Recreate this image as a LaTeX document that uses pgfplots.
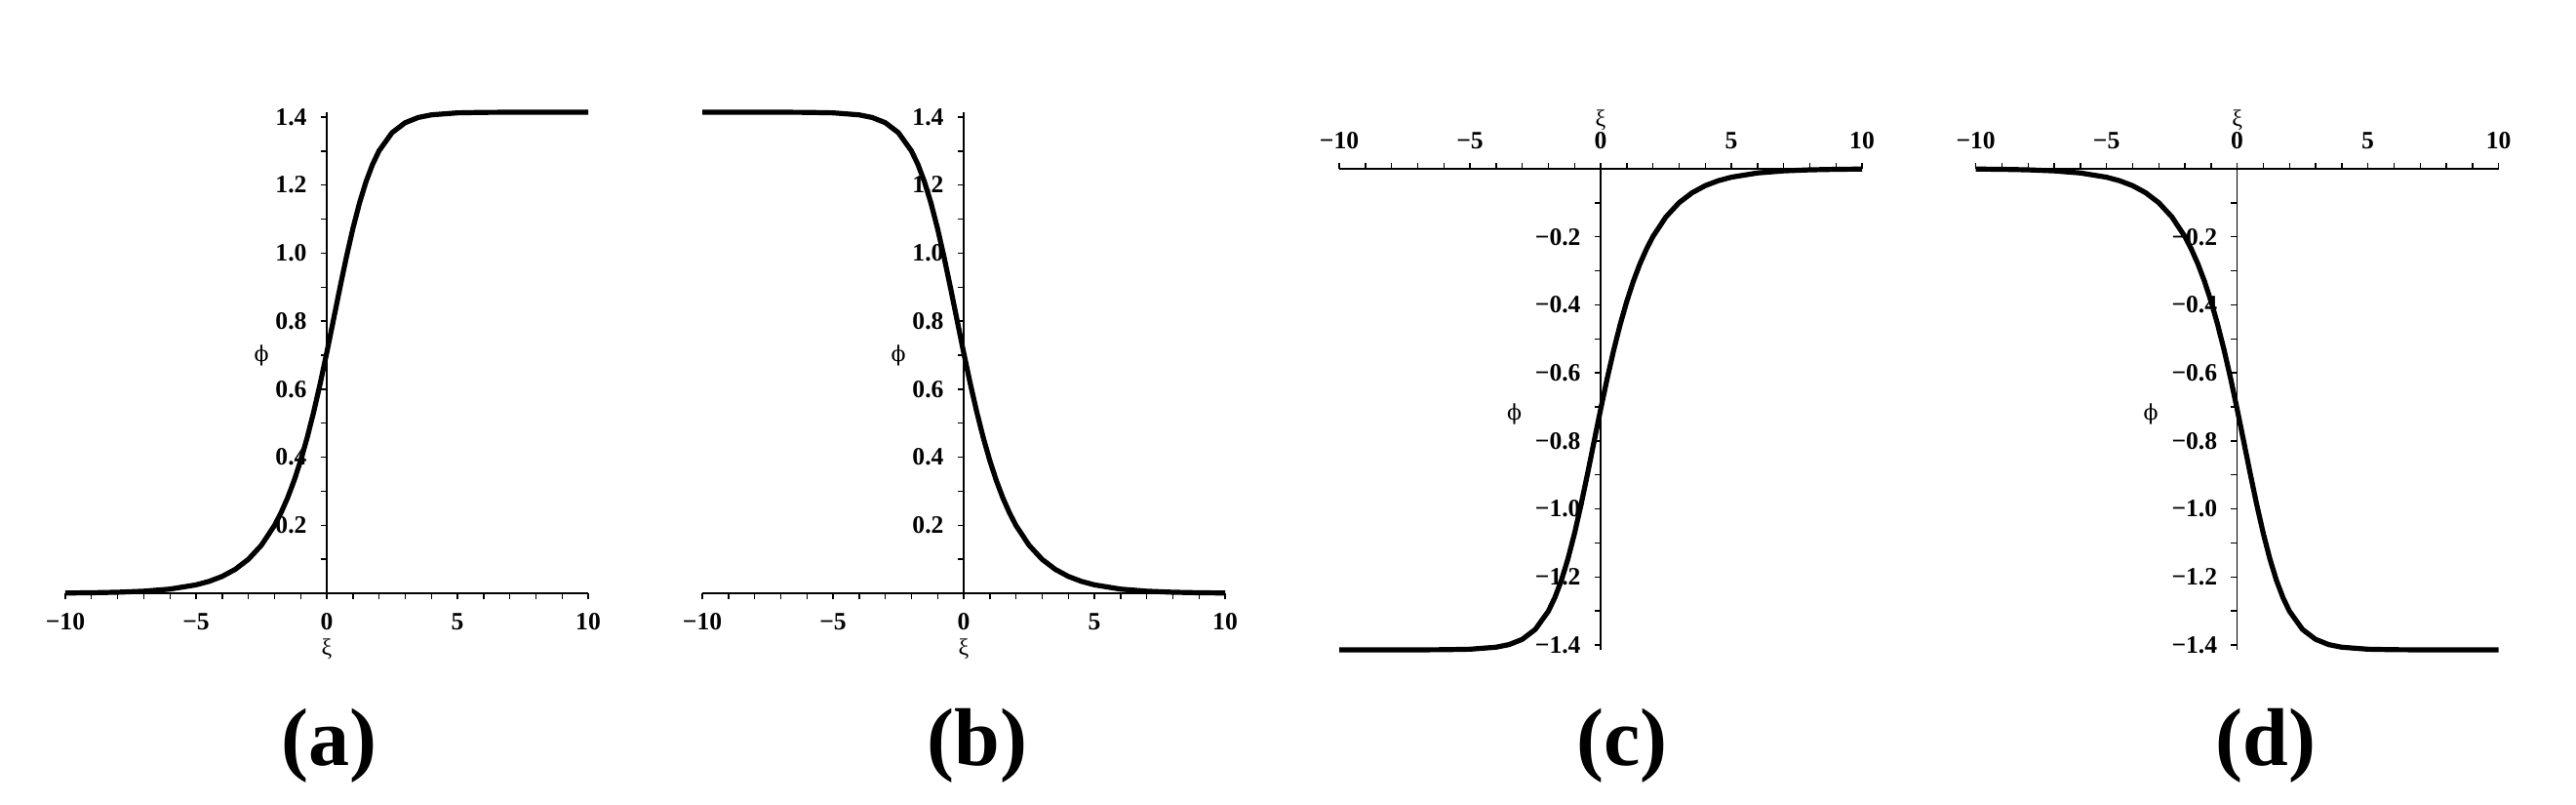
\documentclass[border=0pt]{standalone}
\usepackage{fontspec}
\setmainfont{Liberation Serif}
\newfontfamily\dvs{DejaVu Serif}
\usepackage{pgfplots}
\usepackage{pgfplotstable}
\pgfplotsset{compat=1.18}
\pgfplotstableread{
xi phi
-10 0.0007
-9 0.0015
-8 0.0030
-7 0.0061
-6 0.0122
-5 0.0247
-4.5 0.0350
-4 0.0496
-3.5 0.0704
-3 0.0997
-2.5 0.1412
-2 0.1993
-1.75 0.2365
-1.5 0.2801
-1.25 0.3309
-1 0.3898
-0.75 0.4571
-0.5 0.5330
-0.25 0.6168
0 0.7071
0.25 0.8014
0.5 0.8963
0.75 0.9878
1 1.0722
1.25 1.1466
1.5 1.2094
1.75 1.2604
2 1.3006
2.5 1.3542
3 1.3834
3.5 1.3987
4 1.4064
5 1.4123
6 1.4137
7 1.4141
8 1.4142
10 1.4142
}\curve
\pgfplotsset{
  mapleaxis/.style={
    scale only axis, width=134pt, height=123.25pt, anchor=south west,
    xmin=-10, xmax=10,
    axis y line*=middle,
    tick style={line width=0.35pt, black},
    tick align=outside,
    major tick length=1.6pt, minor tick length=1.6pt,
    xtick={-10,-5,0,5,10},
    xticklabels={−10,−5,0,5,10},
    minor xtick={-9,-8,-7,-6,-4,-3,-2,-1,1,2,3,4,6,7,8,9},
    hide obscured x ticks=false,
    tick label style={font=\fontsize{6.4}{7}\selectfont\bfseries},
    clip=false,
  },
  curvestyle/.style={black, line width=1.3pt, no marks, line join=round},
  posaxis/.style={
    ymin=0, ymax=1.4142, axis x line*=bottom,
    axis line style={-, line width=0.35pt},
    ytick={0.2,0.4,0.6,0.8,1.0,1.2,1.4},
    yticklabels={0.2,0.4,0.6,0.8,1.0,1.2,1.4},
    minor ytick={0.1,0.3,0.5,0.7,0.9,1.1,1.3},
    xlabel={ξ}, ylabel={{\dvs ϕ}},
    every axis x label/.style={at={(axis cs:0,-0.163)},anchor=center,font=\fontsize{6}{7}\selectfont},
    every axis y label/.style={at={(axis cs:-2.5,0.70)},anchor=center,font=\fontsize{5.5}{6}\selectfont},
  },
  negaxis/.style={
    ymin=-1.4142, ymax=0, axis x line*=top,
    axis line style={-, line width=0.35pt},
    ytick={-1.4,-1.2,-1.0,-0.8,-0.6,-0.4,-0.2},
    yticklabels={−1.4,−1.2,−1.0,−0.8,−0.6,−0.4,−0.2},
    minor ytick={-1.3,-1.1,-0.9,-0.7,-0.5,-0.3,-0.1},
    xlabel={ξ}, ylabel={{\dvs ϕ}},
    every axis x label/.style={at={(axis cs:0,0.143)},anchor=center,font=\fontsize{6}{7}\selectfont},
    every axis y label/.style={at={(axis cs:-3.3,-0.72)},anchor=center,font=\fontsize{5.5}{6}\selectfont},
  },
}
\begin{document}
\begin{tikzpicture}
\useasboundingbox (0,0) rectangle (660.25pt,206pt);
% (a)
\begin{axis}[mapleaxis, posaxis, at={(16.75pt,54pt)}]
\addplot[curvestyle] table[x=xi,y=phi]{\curve};
\end{axis}
% (b)
\begin{axis}[mapleaxis, posaxis, at={(180pt,54pt)}]
\addplot[curvestyle] table[x expr=-\thisrow{xi},y=phi]{\curve};
\end{axis}
% (c)
\begin{axis}[mapleaxis, negaxis, at={(343.25pt,39.5pt)}]
\addplot[curvestyle] table[x expr=-\thisrow{xi},y expr=-\thisrow{phi}]{\curve};
\end{axis}
% (d)
\begin{axis}[mapleaxis, negaxis, at={(506.4pt,39.5pt)}]
\addplot[curvestyle] table[x=xi,y expr=-\thisrow{phi}]{\curve};
\end{axis}
\node[font=\fontsize{21}{24}\selectfont\bfseries] at (84.25pt,15pt) {(a)};
\node[font=\fontsize{21}{24}\selectfont\bfseries] at (250.5pt,15pt) {(b)};
\node[font=\fontsize{21}{24}\selectfont\bfseries] at (415.75pt,15pt) {(c)};
\node[font=\fontsize{21}{24}\selectfont\bfseries] at (580.75pt,15pt) {(d)};
\end{tikzpicture}
\end{document}
